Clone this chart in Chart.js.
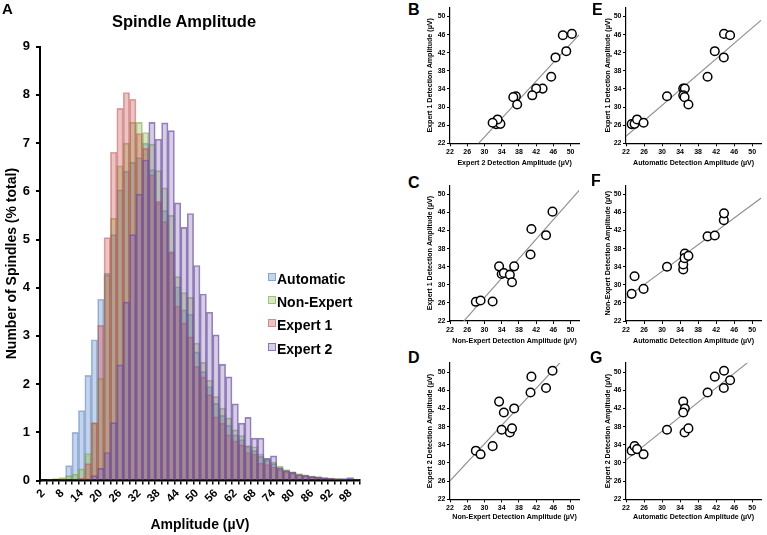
<!DOCTYPE html>
<html>
<head>
<meta charset="utf-8">
<title>Spindle Amplitude</title>
<script src="https://cdn.jsdelivr.net/npm/chart.js@4.4.1/dist/chart.umd.min.js"></script>
<style>
  html, body { margin: 0; padding: 0; background: #fff; }
  #figure {
    position: relative; width: 767px; height: 535px; overflow: hidden;
    font-family: "Liberation Sans", Arial, Helvetica, sans-serif; font-weight: bold; color: #000;
  }
  #figure canvas { position: absolute; }
  .panel-letter { position: absolute; font-size: 16px; line-height: 1; }
  #histTitle { position: absolute; left: 0; width: 368px; top: 13px; text-align: center; font-size: 16.5px; line-height: 1; }
  .legend-row { position: absolute; left: 268px; font-size: 14px; line-height: 1; white-space: nowrap; }
  .legend-key { display: inline-block; width: 6px; height: 6px; border: 1px solid; vertical-align: top; margin-top: 1px; margin-right: 1px; }
</style>
</head>
<body>
<div id="figure">
  <canvas id="histA" width="380" height="535" style="left:0;top:0"></canvas>
  <canvas id="panelB" width="165" height="172" style="left:420px;top:0"></canvas>
  <canvas id="panelC" width="165" height="172" style="left:420px;top:178px"></canvas>
  <canvas id="panelD" width="165" height="180" style="left:420px;top:355px"></canvas>
  <canvas id="panelE" width="170" height="172" style="left:597px;top:0"></canvas>
  <canvas id="panelF" width="170" height="172" style="left:597px;top:178px"></canvas>
  <canvas id="panelG" width="170" height="180" style="left:597px;top:355px"></canvas>

  <div id="histTitle">Spindle Amplitude</div>
  <div id="histLegend"></div>

  <div class="panel-letter" style="left:2px;top:1px;font-size:15px">A</div>
  <div class="panel-letter" style="left:408px;top:2px">B</div>
  <div class="panel-letter" style="left:408px;top:175px">C</div>
  <div class="panel-letter" style="left:408px;top:350px">D</div>
  <div class="panel-letter" style="left:592px;top:2px">E</div>
  <div class="panel-letter" style="left:591px;top:173px">F</div>
  <div class="panel-letter" style="left:590px;top:350px">G</div>
</div>

<script>
// ---- histogram (panel A): % of spindles per 2 µV amplitude bin ----
const histBins = ["2","4","6","8","10","12","14","16","18","20","22","24","26","28","30","32","34","36","38","40",
  "42","44","46","48","50","52","54","56","58","60","62","64","66","68","70","72","74","76","78","80",
  "82","84","86","88","90","92","94","96","98","100"];
const histTickLabels = ["2","8","14","20","26","32","38","44","50","56","62","68","74","80","86","92","98"];
const histYTicks = [0, 1, 2, 3, 4, 5, 6, 7, 8, 9];

const automaticPct = [0, 0, 0, 0.02, 0.31, 1.0, 1.45, 2.18, 2.92, 3.76,
  4.3, 5.1, 6.03, 6.42, 6.6, 6.7, 7.0, 6.45, 5.75, 5.6,
  4.75, 4.02, 3.54, 3.45, 2.67, 2.26, 1.95, 1.6, 1.35, 1.15,
  0.95, 0.85, 0.72, 0.62, 0.5, 0.42, 0.35, 0.28, 0.22, 0.18,
  0.14, 0.11, 0.09, 0.07, 0.06, 0.05, 0.04, 0.03, 0.02, 0.02];
const nonExpertPct = [0.02, 0.03, 0.04, 0.06, 0.1, 0.13, 0.24, 0.56, 1.19, 2.12,
  4.26, 5.44, 6.53, 7.0, 7.43, 7.43, 7.22, 6.98, 6.43, 6.07,
  5.5, 4.23, 3.9, 3.8, 2.85, 2.45, 2.08, 1.74, 1.5, 1.3,
  1.05, 0.93, 0.72, 0.7, 0.55, 0.45, 0.38, 0.3, 0.22, 0.18,
  0.14, 0.12, 0.09, 0.08, 0.06, 0.05, 0.04, 0.03, 0.03, 0.02];
const expert1Pct = [0, 0, 0, 0.01, 0.02, 0.03, 0.05, 0.35, 1.2, 3.22,
  5.04, 6.81, 7.72, 8.05, 7.91, 7.2, 6.89, 6.34, 5.79, 5.37,
  4.73, 3.62, 3.27, 2.98, 2.37, 2.15, 1.78, 1.32, 1.19, 0.95,
  0.82, 0.74, 0.58, 0.55, 0.36, 0.33, 0.28, 0.22, 0.18, 0.15,
  0.12, 0.1, 0.08, 0.06, 0.05, 0.04, 0.03, 0.03, 0.02, 0.01];
const expert2Pct = [0, 0, 0, 0, 0, 0, 0.01, 0.03, 0.1, 0.25,
  0.58, 1.2, 2.4, 3.7, 5.1, 5.94, 6.65, 7.43, 7.08, 7.42,
  7.26, 5.76, 5.25, 5.54, 4.46, 3.87, 3.49, 3.02, 2.41, 2.15,
  1.59, 1.19, 1.31, 0.88, 0.88, 0.46, 0.51, 0.25, 0.2, 0.17,
  0.12, 0.1, 0.08, 0.07, 0.05, 0.04, 0.03, 0.04, 0.06, 0.02];

// ---- scatter panels (B-G): mean detection amplitude (µV) per record ----
const automaticAmp = [23.25, 23.9, 24.45, 25.9, 31.1, 34.7, 35.05, 34.7, 35.0, 35.85, 40.1, 41.7, 43.7, 43.75, 45.1];
const nonExpertAmp = [28.0, 31.9, null, 29.1, 34.0, 33.4, 36.9, 34.5, 35.9, 36.4, 40.7, 40.9, 44.3, 45.8, null];
const expert1Amp = [26.24, 26.3, 27.27, 26.53, 32.4, 34.08, 34.08, 32.6, 32.2, 30.57, 36.7, 42.35, 40.97, 46.17, 45.87];
const expert2Amp = [32.7, 33.7, 33.05, 31.9, 37.3, 43.5, 42.0, 41.1, 36.7, 37.6, 45.5, 49.0, 46.5, 50.3, 48.2];
const ampTicks = [22, 26, 30, 34, 38, 42, 46, 50];
const AMP_MIN = 22, AMP_MAX = 52;

const FONT = '"Liberation Sans", Arial, Helvetica, sans-serif';
Chart.defaults.font.family = FONT;
Chart.defaults.font.weight = 'bold';
Chart.defaults.color = '#000';

const SERIES = [
  { label: 'Automatic',  data: automaticPct, fill: 'rgba(55,112,188,0.3)',  line: 'rgba(80,120,185,0.5)' },
  { label: 'Non-Expert', data: nonExpertPct, fill: 'rgba(125,172,55,0.3)',  line: 'rgba(120,160,60,0.55)' },
  { label: 'Expert 1',   data: expert1Pct,   fill: 'rgba(192,58,58,0.3)',   line: 'rgba(195,90,90,0.55)' },
  { label: 'Expert 2',   data: expert2Pct,   fill: 'rgba(118,88,172,0.3)',  line: 'rgba(110,80,160,0.7)' },
];

// histogram, bars overlap (grouped:false); last series drawn on top
new Chart(document.getElementById('histA'), {
  type: 'bar',
  data: {
    labels: histBins,
    datasets: SERIES.map((s, i) => ({
      label: s.label, data: s.data,
      backgroundColor: s.fill, borderColor: s.line, borderWidth: 1,
      grouped: false, barPercentage: 1, categoryPercentage: 1,
      order: SERIES.length - i,
    })),
  },
  options: {
    responsive: false, animation: false,
    layout: { padding: { top: 46.7, right: 20, bottom: 0, left: 0 } },
    plugins: { legend: { display: false }, tooltip: { enabled: false } },
    scales: {
      x: {
        afterFit: (s) => { s.height = 54.5; },
        grid: { drawOnChartArea: false, tickLength: 4, color: '#000', lineWidth: 1.5 },
        border: { color: '#000', width: 2.5 },
        ticks: {
          autoSkip: false, minRotation: 45, maxRotation: 45, padding: 2,
          font: { size: 11.5, weight: 'bold' },
          callback(v) { const lab = this.getLabelForValue(v); return histTickLabels.includes(lab) ? lab : ''; },
        },
        title: { display: true, text: 'Amplitude (µV)', font: { size: 14, weight: 'bold' }, padding: { top: 0, bottom: 1.6 } },
      },
      y: {
        min: 0, max: 9,
        afterFit: (s) => { s.width = 40; },
        afterBuildTicks: (s) => { s.ticks = histYTicks.map(v => ({ value: v })); },
        grid: { drawOnChartArea: false, tickLength: 4, color: '#000', lineWidth: 2 },
        border: { color: '#000', width: 2 },
        ticks: { padding: 6, font: { size: 13, weight: 'bold' } },
        title: { display: true, text: 'Number of Spindles (% total)', font: { size: 14, weight: 'bold' }, padding: { top: 3.6, bottom: 0 } },
      },
    },
  },
});

// legend for panel A
const legendEl = document.getElementById('histLegend');
SERIES.forEach((s, i) => {
  const row = document.createElement('div');
  row.className = 'legend-row';
  row.style.top = (271.5 + i * 23.4) + 'px';
  row.innerHTML = `<span class="legend-key" style="background:${s.fill};border-color:${s.line}"></span>${s.label}`;
  legendEl.appendChild(row);
});

// least-squares line across the axis range
function fitLine(xs, ys) {
  const pts = xs.map((x, i) => ({ x, y: ys[i] })).filter(p => p.x != null && p.y != null);
  const n = pts.length;
  const mx = pts.reduce((a, p) => a + p.x, 0) / n;
  const my = pts.reduce((a, p) => a + p.y, 0) / n;
  let sxy = 0, sxx = 0;
  pts.forEach(p => { sxy += (p.x - mx) * (p.y - my); sxx += (p.x - mx) ** 2; });
  const b = sxy / sxx, a = my - b * mx;
  return { pts, line: [{ x: AMP_MIN, y: a + b * AMP_MIN }, { x: AMP_MAX, y: a + b * AMP_MAX }] };
}

// page-coordinate layout of the 2x3 grid of scatter panels
const COLS = [
  { left: 420, w: 165, plotLeft: 450, plotRight: 584, titleX: 430 },
  { left: 597, w: 170, plotLeft: 626, plotRight: 762, titleX: 608 },
];
const ROWS = [
  { top: 0,   h: 172, plotTop: 7.5,   plotBottom: 143.3, titleY: 163.3 },
  { top: 178, h: 172, plotTop: 185.3, plotBottom: 321,   titleY: 341 },
  { top: 355, h: 180, plotTop: 363,   plotBottom: 499.3, titleY: 517 },
];
const AXIS_TITLE_SIZE = 7.1;

function scatterPanel(id, col, row, xs, ys, xTitle, yTitle) {
  const c = COLS[col], r = ROWS[row];
  const half = AXIS_TITLE_SIZE * 1.2 / 2;
  const yWidth = c.plotLeft - c.left;
  const xHeight = r.top + r.h - r.plotBottom;
  const fit = fitLine(xs, ys);
  const axis = (title, pad) => ({
    type: 'linear', min: AMP_MIN, max: AMP_MAX,
    afterBuildTicks: (s) => { s.ticks = ampTicks.map(v => ({ value: v })); },
    grid: { drawOnChartArea: false, tickLength: 3, color: '#000', lineWidth: 1 },
    border: { color: '#000', width: 1.2 },
    ticks: { autoSkip: false, padding: 1.5, maxRotation: 0, font: { size: 7, weight: 'bold' } },
    title: { display: true, text: title, font: { size: AXIS_TITLE_SIZE, weight: 'bold' }, padding: pad },
  });
  new Chart(document.getElementById(id), {
    type: 'scatter',
    data: {
      datasets: [
        { type: 'scatter', data: fit.pts, pointRadius: 4.3, pointBackgroundColor: '#fff',
          pointBorderColor: '#000', pointBorderWidth: 1.5, order: 1 },
        { type: 'line', data: fit.line, showLine: true, borderColor: '#8c8c8c', borderWidth: 1.1,
          pointRadius: 0, fill: false, order: 2 },
      ],
    },
    options: {
      responsive: false, animation: false,
      layout: { padding: { top: r.plotTop - r.top, right: c.left + c.w - c.plotRight, bottom: 0, left: 0 } },
      plugins: { legend: { display: false }, tooltip: { enabled: false } },
      scales: {
        x: Object.assign(axis(xTitle, { top: 0, bottom: r.top + r.h - r.titleY - half }),
          { afterFit: (s) => { s.height = xHeight; } }),
        y: Object.assign(axis(yTitle, { top: c.titleX - c.left - half, bottom: 0 }),
          { afterFit: (s) => { s.width = yWidth; } }),
      },
    },
  });
}

scatterPanel('panelB', 0, 0, expert2Amp, expert1Amp, 'Expert 2 Detection Amplitude (µV)', 'Expert 1 Detection Amplitude (µV)');
scatterPanel('panelC', 0, 1, nonExpertAmp, expert1Amp, 'Non-Expert Detection Amplitude (µV)', 'Expert 1 Detection Amplitude (µV)');
scatterPanel('panelD', 0, 2, nonExpertAmp, expert2Amp, 'Non-Expert Detection Amplitude (µV)', 'Expert 2 Detection Amplitude (µV)');
scatterPanel('panelE', 1, 0, automaticAmp, expert1Amp, 'Automatic Detection Amplitude (µV)', 'Expert 1 Detection Amplitude (µV)');
scatterPanel('panelF', 1, 1, automaticAmp, nonExpertAmp, 'Automatic Detection Amplitude (µV)', 'Non-Expert Detection Amplitude (µV)');
scatterPanel('panelG', 1, 2, automaticAmp, expert2Amp, 'Automatic Detection Amplitude (µV)', 'Expert 2 Detection Amplitude (µV)');
</script>
</body>
</html>
